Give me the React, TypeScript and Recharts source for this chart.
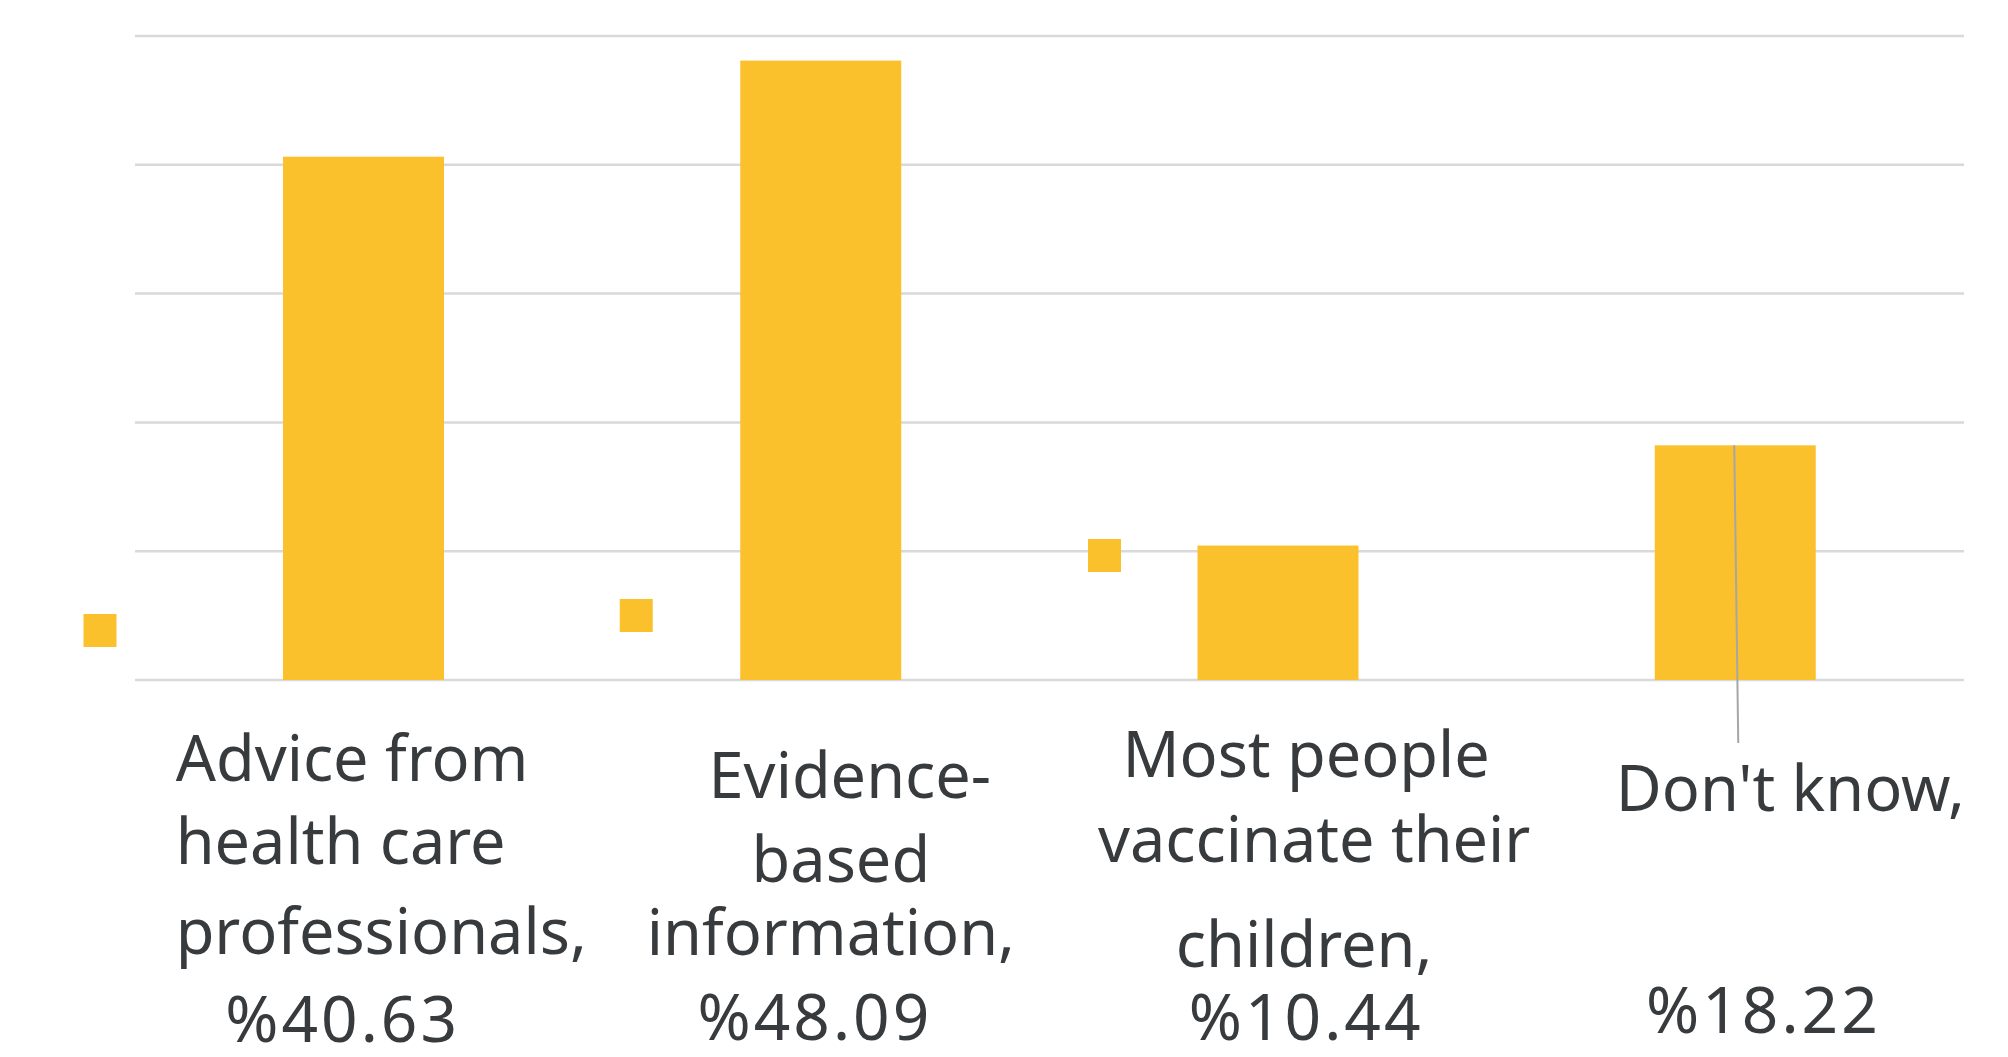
import { BarChart, Bar, XAxis, YAxis, CartesianGrid } from "recharts";

const categories = [
  "Advice from health care professionals",
  "Evidence-based information",
  "Most people vaccinate their children",
  "Don't know",
];
const shares = [40.63, 48.09, 10.44, 18.22];
const tickLines = [
  ["Advice from", "health care", "professionals,", "%40.63"],
  ["Evidence-", "based", "information,", "%48.09"],
  ["Most people", "vaccinate their", "children,", "%10.44"],
  ["Don't know,", "%18.22"],
];
const yTicks = [0, 10, 20, 30, 40, 50];

const chartData = categories.map((name, i) => ({ name, value: shares[i], idx: i }));

// where each label line sits, relative to the category centre and the baseline
const labelLayout = [
  [
    { dx: -188, dy: 101, anchor: "start" },
    { dx: -188, dy: 184, anchor: "start" },
    { dx: -188, dy: 274, anchor: "start" },
    { dx: -21, dy: 362, anchor: "middle" },
  ],
  [
    { dx: 29, dy: 118, anchor: "middle" },
    { dx: 20, dy: 202, anchor: "middle" },
    { dx: 10, dy: 275, anchor: "middle" },
    { dx: -6, dy: 360, anchor: "middle" },
  ],
  [
    { dx: 28, dy: 97, anchor: "middle" },
    { dx: 36, dy: 182, anchor: "middle" },
    { dx: 26, dy: 287, anchor: "middle" },
    { dx: 28, dy: 360, anchor: "middle" },
  ],
  [
    { dx: 55, dy: 131, anchor: "middle" },
    { dx: 28, dy: 353, anchor: "middle" },
  ],
];

// stray legend-key squares left by the label, relative to bar centre / baseline
const keyLayout = [
  { dx: -280, dy: -66 },
  { dx: -201, dy: -81 },
  { dx: -190, dy: -141 },
  null,
];

const BAR_COLOR = "#FBC12D";
const TEXT_COLOR = "#383b3e";

function CategoryTick(props: any) {
  const { x, y, payload } = props;
  const i = payload.index;
  const lines = tickLines[i] || [];
  return (
    <g>
      {lines.map((line, j) => {
        const pos = labelLayout[i][j];
        const isNumber = line.startsWith("%");
        return (
          <text
            key={j}
            x={x + pos.dx}
            y={y + pos.dy}
            textAnchor={pos.anchor as any}
            fontFamily="'Noto Sans', sans-serif"
            fontSize={isNumber ? 64 : 63}
            letterSpacing={isNumber ? 3 : 0}
            fill={TEXT_COLOR}
          >
            {line}
          </text>
        );
      })}
    </g>
  );
}

function BarWithKey(props: any) {
  const { x, y, width, height, index } = props;
  const cx = x + width / 2;
  const base = y + height;
  const key = keyLayout[index];
  return (
    <g>
      <rect x={x} y={y} width={width} height={height} fill={BAR_COLOR} />
      {key && (
        <rect x={cx + key.dx} y={base + key.dy} width={33} height={33} fill={BAR_COLOR} />
      )}
      {index === 3 && (
        <line x1={cx - 1} y1={y} x2={cx + 3} y2={base + 63} stroke="#a6a6a6" strokeWidth={2} />
      )}
    </g>
  );
}

export default function App() {
  return (
    <div style={{ position: "absolute", left: 0, top: 0, width: 2008, height: 1057, background: "#fff" }}>
      <BarChart
        width={2008}
        height={1057}
        data={chartData}
        margin={{ top: 36, right: 44, bottom: 347, left: 135 }}
        barCategoryGap={0}
      >
        <CartesianGrid vertical={false} stroke="#d9d9d9" strokeWidth={2.5} />
        <XAxis
          dataKey="name"
          axisLine={false}
          tickLine={false}
          tickSize={0}
          tickMargin={0}
          interval={0}
          height={30}
          tick={<CategoryTick />}
        />
        <YAxis hide domain={[0, 50]} ticks={yTicks} />
        <Bar
          dataKey="value"
          barSize={161}
          fill={BAR_COLOR}
          isAnimationActive={false}
          shape={<BarWithKey />}
        />
      </BarChart>
    </div>
  );
}
